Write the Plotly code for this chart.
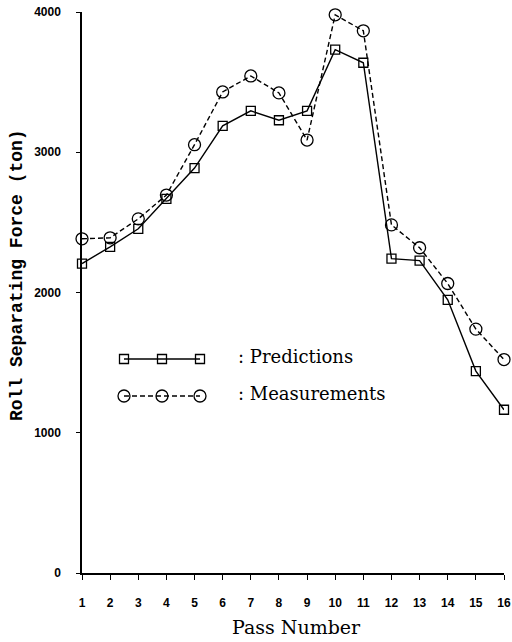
import plotly.graph_objects as go

passes = list(range(1, 17))
predictions = [2206, 2326, 2454, 2667, 2887, 3188, 3295, 3228, 3295, 3732, 3638, 2241, 2227, 1948, 1440, 1164]
measurements = [2383, 2390, 2525, 2695, 3054, 3430, 3544, 3423, 3087, 3980, 3866, 2482, 2319, 2064, 1739, 1522]
y_ticks = [0, 1000, 2000, 3000, 4000]
x_ticks = passes
legend_labels = [": Predictions", ": Measurements"]

W, H = 512, 642
L, R, T, B = 82, 8, 12, 69
pw, ph = W - L - R, H - T - B

def px(x):
    return (x - L) / pw

def py(y):
    return (H - B - y) / ph

fig = go.Figure()

fig.add_trace(go.Scatter(
    x=passes, y=predictions, mode="lines+markers", cliponaxis=False,
    line=dict(color="black", width=1.4),
    marker=dict(symbol="square-open", size=9, color="black", line=dict(width=1.3)),
    showlegend=False))
fig.add_trace(go.Scatter(
    x=passes, y=measurements, mode="lines+markers", cliponaxis=False,
    line=dict(color="black", width=1.4, dash="5px,3px"),
    marker=dict(symbol="circle-open", size=12, color="black", line=dict(width=1.3)),
    showlegend=False))

# legend samples on an overlay axis in plot-fraction units
lx = [px(124), px(162), px(200)]
fig.add_trace(go.Scatter(
    x=lx, y=[py(359)] * 3, xaxis="x2", yaxis="y2", mode="lines+markers", cliponaxis=False,
    line=dict(color="black", width=1.4),
    marker=dict(symbol="square-open", size=9, color="black", line=dict(width=1.3)),
    showlegend=False, hoverinfo="skip"))
fig.add_trace(go.Scatter(
    x=lx, y=[py(396)] * 3, xaxis="x2", yaxis="y2", mode="lines+markers", cliponaxis=False,
    line=dict(color="black", width=1.4, dash="5px,3px"),
    marker=dict(symbol="circle-open", size=12, color="black", line=dict(width=1.3)),
    showlegend=False, hoverinfo="skip"))

annotations = [
    dict(text=legend_labels[0], x=px(236), y=py(356), xref="paper", yref="paper",
         xanchor="left", yanchor="middle", showarrow=False,
         font=dict(family="DejaVu Serif", size=18, color="black")),
    dict(text=legend_labels[1], x=px(236), y=py(393), xref="paper", yref="paper",
         xanchor="left", yanchor="middle", showarrow=False,
         font=dict(family="DejaVu Serif", size=18, color="black")),
    dict(text="Roll Separating Force (ton)", x=px(17), y=py(275), xref="paper", yref="paper",
         xanchor="center", yanchor="middle", textangle=-90, showarrow=False,
         font=dict(family="Liberation Mono", size=18, color="black", weight="bold")),
    dict(text="Pass Number", x=px(296), y=py(627), xref="paper", yref="paper",
         xanchor="center", yanchor="middle", showarrow=False,
         font=dict(family="DejaVu Serif", size=19, color="black")),
]

fig.update_layout(
    width=W, height=H,
    margin=dict(l=L, r=R, t=T, b=B, pad=0, autoexpand=False),
    paper_bgcolor="white", plot_bgcolor="white",
    annotations=annotations,
    xaxis=dict(range=[1, 16], tickvals=x_ticks, ticktext=[str(v) for v in x_ticks],
               automargin=False,
               showgrid=False, zeroline=False, showline=True, linecolor="black", linewidth=1.5,
               ticks="outside", ticklen=5, tickwidth=1.3, tickcolor="black",
               ticklabelstandoff=13, ticklabeloverflow="allow",
               tickfont=dict(family="Liberation Sans", size=12, color="black", weight="bold")),
    yaxis=dict(range=[0, 4000], tickvals=y_ticks, ticktext=[str(v) for v in y_ticks],
               automargin=False,
               showgrid=False, zeroline=False, showline=True, linecolor="black", linewidth=1.5,
               ticks="outside", ticklen=4, tickwidth=1.3, tickcolor="black",
               ticklabelstandoff=13,
               tickfont=dict(family="Liberation Sans", size=12, color="black", weight="bold")),
    xaxis2=dict(range=[0, 1], overlaying="x", visible=False),
    yaxis2=dict(range=[0, 1], overlaying="y", visible=False),
)

fig.write_html("out.html")
